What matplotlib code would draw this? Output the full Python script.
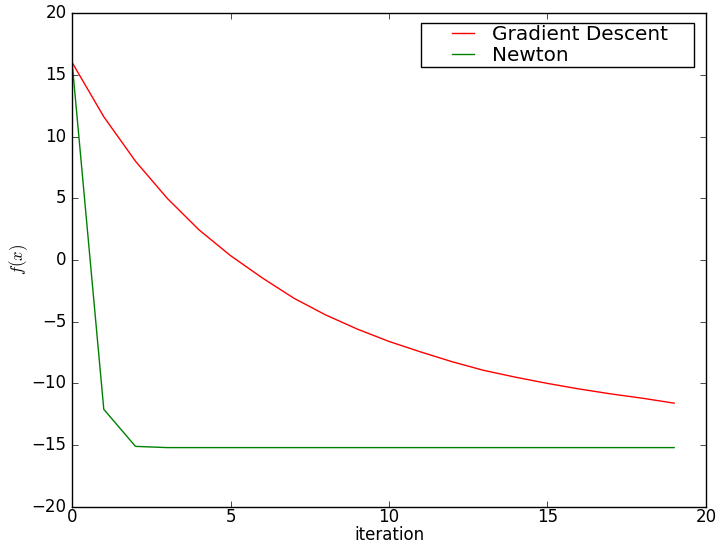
import matplotlib
matplotlib.use('Agg')
import matplotlib.pyplot as plt
from matplotlib.legend_handler import HandlerLine2D

iterations = list(range(20))
gradient_descent = [16.0, 11.6, 8.0, 5.0, 2.45, 0.35, -1.45, -3.1, -4.45, -5.6,
                    -6.6, -7.45, -8.25, -8.95, -9.5, -10.0, -10.45, -10.85, -11.2, -11.6]
newton = [16.0, -12.1, -15.1, -15.2, -15.2, -15.2, -15.2, -15.2, -15.2, -15.2,
          -15.2, -15.2, -15.2, -15.2, -15.2, -15.2, -15.2, -15.2, -15.2, -15.2]

plt.style.use('classic')
fig = plt.figure(figsize=(7.21, 5.45), dpi=100, facecolor='white')
ax = fig.add_axes([0.1, 0.07, 0.879, 0.906])

gd_line, = ax.plot(iterations, gradient_descent, color='red', label='Gradient Descent')
nt_line, = ax.plot(iterations, newton, color='green', label='Newton')

ax.set_xlim(0, 20)
ax.set_ylim(-20, 20)
ax.tick_params(axis='x', pad=1)
ax.set_xlabel('iteration', labelpad=0)
ax.set_ylabel('$f(x)$', labelpad=1)

# legend box stretched to a fixed width, handles inset from the frame
handler = HandlerLine2D(xpad=1.15)
ax.legend(loc='upper right', bbox_to_anchor=(0.550, 0.0, 0.431, 0.979),
          mode='expand', borderaxespad=0.0, borderpad=0.1,
          labelspacing=0.1, handlelength=2.85, handletextpad=0.6,
          handler_map={gd_line: handler, nt_line: handler})

fig.savefig('out.png', dpi=100, facecolor='white')
